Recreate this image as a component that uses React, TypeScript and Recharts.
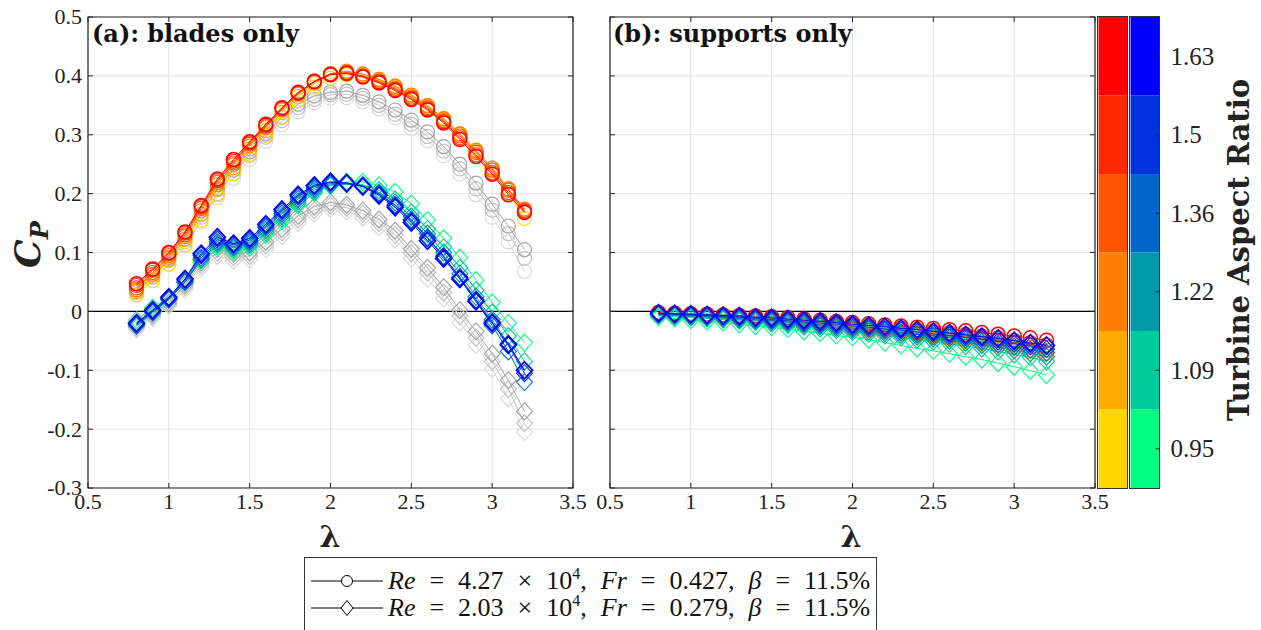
import React from "react";
import {
  ScatterChart,
  Scatter,
  XAxis,
  YAxis,
  CartesianGrid,
  ReferenceLine,
  ReferenceArea,
  BarChart,
  Bar,
  Cell,
} from "recharts";

// tip speed ratio sampled in every series
const LAMBDA = [0.8, 0.9, 1.0, 1.1, 1.2, 1.3, 1.4, 1.5, 1.6, 1.7, 1.8, 1.9, 2.0, 2.1, 2.2, 2.3, 2.4, 2.5, 2.6, 2.7, 2.8, 2.9, 3.0, 3.1, 3.2];
const X_TICKS = [0.5, 1, 1.5, 2, 2.5, 3, 3.5];
const Y_TICKS = [-0.3, -0.2, -0.1, 0, 0.1, 0.2, 0.3, 0.4, 0.5];

const ASPECT_RATIOS = ["0.95", "1.09", "1.22", "1.36", "1.5", "1.63"];
const WARM = ["#ffd700", "#ffaa00", "#ff7f00", "#ff5500", "#ff2a00", "#ff0000"];
const COOL = ["#00ff80", "#00cc99", "#0099aa", "#0066cc", "#0033dd", "#0000ff"];
const GREYS = ["#dadada", "#c2c2c2", "#a6a6a6"];

// (a) blades only, Re = 4.27e4 (circles)
const bladesO095 = [0.028, 0.052, 0.080, 0.113, 0.155, 0.198, 0.234, 0.267, 0.299, 0.330, 0.358, 0.381, 0.396, 0.402, 0.400, 0.392, 0.381, 0.366, 0.348, 0.326, 0.300, 0.271, 0.240, 0.200, 0.158];
const bladesO109 = [0.034, 0.059, 0.088, 0.122, 0.165, 0.209, 0.244, 0.276, 0.307, 0.338, 0.365, 0.387, 0.402, 0.407, 0.403, 0.394, 0.383, 0.368, 0.350, 0.328, 0.302, 0.274, 0.244, 0.208, 0.170];
const bladesO122 = [0.037, 0.063, 0.092, 0.127, 0.171, 0.215, 0.249, 0.281, 0.312, 0.342, 0.369, 0.390, 0.404, 0.408, 0.403, 0.394, 0.382, 0.367, 0.349, 0.327, 0.301, 0.273, 0.243, 0.208, 0.174];
const bladesO136 = [0.040, 0.066, 0.095, 0.130, 0.175, 0.219, 0.252, 0.284, 0.314, 0.344, 0.370, 0.391, 0.403, 0.406, 0.400, 0.391, 0.379, 0.364, 0.346, 0.324, 0.298, 0.270, 0.240, 0.206, 0.172];
const bladesO150 = [0.044, 0.070, 0.098, 0.133, 0.178, 0.222, 0.255, 0.286, 0.316, 0.345, 0.371, 0.391, 0.403, 0.405, 0.399, 0.390, 0.377, 0.362, 0.344, 0.322, 0.295, 0.266, 0.236, 0.202, 0.170];
const bladesO163 = [0.047, 0.072, 0.100, 0.135, 0.180, 0.225, 0.258, 0.288, 0.318, 0.346, 0.372, 0.390, 0.402, 0.404, 0.398, 0.388, 0.375, 0.360, 0.342, 0.320, 0.292, 0.263, 0.233, 0.198, 0.168];
const bladesOGrey1 = [0.028, 0.053, 0.080, 0.112, 0.152, 0.193, 0.226, 0.258, 0.289, 0.317, 0.339, 0.354, 0.362, 0.363, 0.356, 0.344, 0.329, 0.311, 0.290, 0.264, 0.233, 0.198, 0.160, 0.118, 0.068];
const bladesOGrey2 = [0.032, 0.058, 0.086, 0.118, 0.160, 0.200, 0.234, 0.265, 0.296, 0.324, 0.346, 0.360, 0.368, 0.369, 0.362, 0.350, 0.335, 0.318, 0.297, 0.272, 0.242, 0.208, 0.172, 0.132, 0.090];
const bladesOGrey3 = [0.036, 0.062, 0.090, 0.123, 0.165, 0.207, 0.240, 0.271, 0.302, 0.330, 0.352, 0.366, 0.372, 0.374, 0.367, 0.356, 0.342, 0.325, 0.305, 0.280, 0.250, 0.218, 0.182, 0.145, 0.105];

// (a) blades only, Re = 2.03e4 (diamonds)
const bladesD095 = [-0.015, 0.006, 0.024, 0.050, 0.086, 0.110, 0.102, 0.108, 0.130, 0.154, 0.180, 0.201, 0.214, 0.220, 0.220, 0.214, 0.203, 0.183, 0.155, 0.124, 0.091, 0.053, 0.015, -0.020, -0.053];
const bladesD109 = [-0.019, 0.003, 0.022, 0.050, 0.088, 0.113, 0.105, 0.112, 0.134, 0.158, 0.183, 0.203, 0.214, 0.217, 0.215, 0.206, 0.190, 0.168, 0.140, 0.109, 0.074, 0.036, -0.002, -0.042, -0.085];
const bladesD122 = [-0.022, 0.000, 0.020, 0.049, 0.088, 0.115, 0.108, 0.115, 0.138, 0.162, 0.187, 0.206, 0.215, 0.216, 0.213, 0.202, 0.185, 0.161, 0.132, 0.100, 0.064, 0.025, -0.014, -0.055, -0.100];
const bladesD136 = [-0.024, -0.002, 0.020, 0.050, 0.091, 0.118, 0.110, 0.118, 0.142, 0.166, 0.191, 0.209, 0.217, 0.217, 0.213, 0.200, 0.181, 0.156, 0.126, 0.094, 0.057, 0.017, -0.024, -0.068, -0.120];
const bladesD150 = [-0.022, 0.000, 0.022, 0.053, 0.095, 0.122, 0.113, 0.121, 0.145, 0.170, 0.195, 0.212, 0.219, 0.218, 0.213, 0.199, 0.180, 0.154, 0.124, 0.093, 0.058, 0.020, -0.018, -0.058, -0.105];
const bladesD163 = [-0.020, 0.002, 0.024, 0.055, 0.098, 0.126, 0.115, 0.124, 0.148, 0.173, 0.198, 0.214, 0.220, 0.218, 0.212, 0.197, 0.177, 0.151, 0.120, 0.090, 0.055, 0.017, -0.020, -0.056, -0.100];
const bladesDGrey1 = [-0.031, -0.011, 0.009, 0.037, 0.073, 0.094, 0.086, 0.088, 0.106, 0.128, 0.150, 0.166, 0.174, 0.170, 0.159, 0.143, 0.122, 0.090, 0.056, 0.022, -0.019, -0.057, -0.098, -0.148, -0.205];
const bladesDGrey2 = [-0.028, -0.008, 0.012, 0.041, 0.078, 0.100, 0.092, 0.094, 0.112, 0.134, 0.156, 0.172, 0.180, 0.176, 0.166, 0.150, 0.130, 0.099, 0.066, 0.032, -0.008, -0.045, -0.085, -0.132, -0.190];
const bladesDGrey3 = [-0.025, -0.005, 0.015, 0.045, 0.083, 0.106, 0.098, 0.100, 0.118, 0.140, 0.162, 0.178, 0.185, 0.181, 0.171, 0.156, 0.137, 0.106, 0.074, 0.041, 0.002, -0.034, -0.072, -0.117, -0.170];

// (b) supports only, Re = 4.27e4 (circles)
const supportsO095 = [-0.005, -0.006, -0.008, -0.009, -0.011, -0.013, -0.015, -0.017, -0.019, -0.022, -0.024, -0.027, -0.030, -0.032, -0.035, -0.038, -0.041, -0.044, -0.048, -0.051, -0.055, -0.060, -0.064, -0.069, -0.075];
const supportsO109 = [-0.004, -0.005, -0.007, -0.009, -0.010, -0.012, -0.014, -0.016, -0.018, -0.021, -0.023, -0.026, -0.028, -0.031, -0.034, -0.036, -0.039, -0.042, -0.045, -0.049, -0.053, -0.057, -0.061, -0.066, -0.071];
const supportsO122 = [-0.004, -0.005, -0.006, -0.008, -0.010, -0.011, -0.013, -0.015, -0.017, -0.019, -0.022, -0.024, -0.026, -0.029, -0.031, -0.034, -0.037, -0.039, -0.042, -0.045, -0.049, -0.053, -0.057, -0.061, -0.066];
const supportsO136 = [-0.003, -0.004, -0.006, -0.007, -0.009, -0.010, -0.012, -0.014, -0.016, -0.018, -0.020, -0.022, -0.024, -0.027, -0.029, -0.031, -0.034, -0.036, -0.039, -0.042, -0.045, -0.049, -0.053, -0.057, -0.061];
const supportsO150 = [-0.003, -0.004, -0.005, -0.006, -0.007, -0.009, -0.010, -0.012, -0.014, -0.016, -0.018, -0.020, -0.022, -0.024, -0.026, -0.028, -0.031, -0.033, -0.036, -0.039, -0.042, -0.045, -0.049, -0.053, -0.057];
const supportsO163 = [-0.002, -0.003, -0.004, -0.005, -0.006, -0.007, -0.008, -0.009, -0.011, -0.013, -0.015, -0.017, -0.019, -0.021, -0.023, -0.025, -0.027, -0.029, -0.031, -0.033, -0.036, -0.039, -0.042, -0.045, -0.049];

// (b) supports only, Re = 2.03e4 (diamonds)
const supportsD095 = [-0.010, -0.012, -0.015, -0.017, -0.019, -0.022, -0.025, -0.027, -0.030, -0.034, -0.037, -0.041, -0.044, -0.048, -0.053, -0.058, -0.063, -0.067, -0.072, -0.077, -0.082, -0.088, -0.094, -0.101, -0.108];
const supportsD109 = [-0.007, -0.009, -0.010, -0.012, -0.014, -0.016, -0.018, -0.021, -0.023, -0.026, -0.029, -0.032, -0.035, -0.038, -0.041, -0.044, -0.048, -0.051, -0.055, -0.059, -0.063, -0.068, -0.073, -0.078, -0.085];
const supportsD122 = [-0.006, -0.007, -0.009, -0.010, -0.012, -0.014, -0.016, -0.018, -0.020, -0.023, -0.025, -0.028, -0.031, -0.034, -0.037, -0.040, -0.043, -0.046, -0.050, -0.053, -0.057, -0.061, -0.066, -0.071, -0.077];
const supportsD136 = [-0.005, -0.006, -0.007, -0.009, -0.010, -0.012, -0.014, -0.016, -0.018, -0.020, -0.023, -0.025, -0.028, -0.030, -0.033, -0.036, -0.039, -0.042, -0.045, -0.048, -0.052, -0.056, -0.060, -0.065, -0.070];
const supportsD150 = [-0.004, -0.005, -0.006, -0.007, -0.009, -0.010, -0.012, -0.014, -0.016, -0.018, -0.020, -0.022, -0.025, -0.027, -0.030, -0.032, -0.035, -0.038, -0.041, -0.044, -0.047, -0.051, -0.055, -0.059, -0.064];
const supportsD163 = [-0.003, -0.004, -0.005, -0.006, -0.007, -0.008, -0.010, -0.011, -0.013, -0.015, -0.017, -0.019, -0.022, -0.024, -0.026, -0.029, -0.031, -0.034, -0.037, -0.040, -0.043, -0.046, -0.050, -0.054, -0.058];

const LEGEND_ROWS = [
  { marker: "circle", re: "4.27", fr: "0.427", beta: "11.5" },
  { marker: "diamond", re: "2.03", fr: "0.279", beta: "11.5" },
];

const SERIF = "'Liberation Serif', 'Times New Roman', serif";
const BOLD_SERIF = "'DejaVu Serif', serif";
const AXIS = "#262626";

// plot box inside each 600x560 panel svg
const PLOT = { left: 88, right: 573, top: 17, bottom: 488 };

const toPoints = (vals: number[]) => LAMBDA.map((x, i) => ({ x, y: vals[i] }));

const ring = (color: string, w: number) => (p: any) => (
  <circle cx={p.cx} cy={p.cy} r={7} fill="none" stroke={color} strokeWidth={w} />
);

const diamond = (color: string, w: number) => (p: any) => (
  <polygon
    points={`${p.cx},${p.cy - 8.5} ${p.cx + 8},${p.cy} ${p.cx},${p.cy + 8.5} ${p.cx - 8},${p.cy}`}
    fill="none"
    stroke={color}
    strokeWidth={w}
  />
);

function XTick(p: any) {
  return (
    <g>
      <line x1={p.x} x2={p.x} y1={PLOT.top} y2={PLOT.top + 5} stroke={AXIS} />
      <line x1={p.x} x2={p.x} y1={PLOT.bottom - 5} y2={PLOT.bottom} stroke={AXIS} />
      <text x={p.x} y={p.y} dy="0.7em" textAnchor="middle" fontFamily={SERIF} fontSize={22} fill="#222">
        {p.payload.value}
      </text>
    </g>
  );
}

function YTick(p: any) {
  return (
    <g>
      <line x1={PLOT.left} x2={PLOT.left + 5} y1={p.y} y2={p.y} stroke={AXIS} />
      <line x1={PLOT.right - 5} x2={PLOT.right} y1={p.y} y2={p.y} stroke={AXIS} />
      {p.showLabel && (
        <text x={p.x} y={p.y} dy="0.34em" textAnchor="end" fontFamily={SERIF} fontSize={22} fill="#222">
          {p.payload.value}
        </text>
      )}
    </g>
  );
}

function CbTick(p: any) {
  const idx = Math.floor(p.payload.value);
  return (
    <g>
      <line x1={p.x - 15} x2={p.x - 11} y1={p.y} y2={p.y} stroke={AXIS} />
      <text x={p.x} y={p.y} dy="0.34em" textAnchor="start" fontFamily={SERIF} fontSize={25} fill="#222">
        {ASPECT_RATIOS[idx]}
      </text>
    </g>
  );
}

interface PanelProps {
  left: number;
  circles: number[][];
  diamonds: number[][];
  greyCircles: number[][];
  greyDiamonds: number[][];
  showY: boolean;
}

function Panel({ left, circles, diamonds, greyCircles, greyDiamonds, showY }: PanelProps) {
  const last = ASPECT_RATIOS.length - 1;
  return (
    <div style={{ position: "absolute", left, top: 0 }}>
      <ScatterChart width={600} height={560} margin={{ top: 17, right: 27, bottom: 42, left: 0 }}>
        <CartesianGrid stroke="#e2e2e2" strokeWidth={1} />
        <XAxis
          type="number"
          dataKey="x"
          domain={[0.5, 3.5]}
          ticks={X_TICKS}
          interval={0}
          height={30}
          axisLine={false}
          tickLine={false}
          tickSize={0}
          tickMargin={6}
          tick={(p: any) => <XTick {...p} />}
        />
        <YAxis
          type="number"
          dataKey="y"
          domain={[-0.3, 0.5]}
          ticks={Y_TICKS}
          interval={0}
          width={88}
          axisLine={false}
          tickLine={false}
          tickSize={0}
          tickMargin={6}
          tick={(p: any) => <YTick {...p} showLabel={showY} />}
        />
        <ReferenceLine y={0} stroke="#000" strokeWidth={1.3} />
        {greyCircles.map((v, i) => (
          <Scatter
            key={`gc${i}`}
            data={toPoints(v)}
            shape={ring(GREYS[i], 1.2)}
            line={{ stroke: GREYS[i], strokeWidth: 1 }}
            isAnimationActive={false}
          />
        ))}
        {greyDiamonds.map((v, i) => (
          <Scatter
            key={`gd${i}`}
            data={toPoints(v)}
            shape={diamond(GREYS[i], 1.2)}
            line={{ stroke: GREYS[i], strokeWidth: 1 }}
            isAnimationActive={false}
          />
        ))}
        {circles.map((v, i) => (
          <Scatter
            key={`c${i}`}
            data={toPoints(v)}
            shape={ring(WARM[i], i === last ? 1.5 : 1.1)}
            line={{ stroke: WARM[i], strokeWidth: 1 }}
            isAnimationActive={false}
          />
        ))}
        {diamonds.map((v, i) => (
          <Scatter
            key={`d${i}`}
            data={toPoints(v)}
            shape={diamond(COOL[i], i === last ? 1.7 : 1.1)}
            line={{ stroke: COOL[i], strokeWidth: 1 }}
            isAnimationActive={false}
          />
        ))}
        <ReferenceArea x1={0.5} x2={3.5} y1={-0.3} y2={0.5} fill="none" stroke={AXIS} strokeWidth={1.2} />
      </ScatterChart>
    </div>
  );
}

const COLORBAR_ROWS = [WARM, COOL].map((_, k) => {
  const row: Record<string, number> = { col: k };
  ASPECT_RATIOS.forEach((_, i) => {
    row[`s${i}`] = 1;
  });
  return row;
});

function Colorbar() {
  return (
    <div style={{ position: "absolute", left: 1090, top: 0 }}>
      <BarChart
        width={171}
        height={560}
        data={COLORBAR_ROWS}
        margin={{ top: 17, right: 0, bottom: 72, left: 6.5 }}
        barSize={29}
        barCategoryGap={0}
      >
        <XAxis dataKey="col" hide />
        <YAxis
          orientation="right"
          type="number"
          domain={[0, ASPECT_RATIOS.length]}
          ticks={ASPECT_RATIOS.map((_, i) => i + 0.5)}
          interval={0}
          width={100.5}
          axisLine={false}
          tickLine={false}
          tickSize={0}
          tickMargin={10}
          tick={(p: any) => <CbTick {...p} />}
        />
        {ASPECT_RATIOS.map((_, i) => (
          <Bar key={i} dataKey={`s${i}`} stackId="cb" isAnimationActive={false}>
            {[WARM, COOL].map((pal, k) => (
              <Cell key={k} fill={pal[i]} />
            ))}
          </Bar>
        ))}
      </BarChart>
      <div style={{ position: "absolute", left: 7, top: 16, width: 31, height: 473, border: "1.5px solid #333", boxSizing: "border-box" }} />
      <div style={{ position: "absolute", left: 39, top: 16, width: 31, height: 473, border: "1.5px solid #333", boxSizing: "border-box" }} />
    </div>
  );
}

function LegendMarker({ marker }: { marker: string }) {
  return (
    <svg width={78} height={22} style={{ display: "block" }}>
      <line x1={6} x2={78} y1={11} y2={11} stroke="#000" strokeWidth={1} />
      {marker === "circle" ? (
        <circle cx={42} cy={11} r={5.5} fill="#fff" stroke="#000" strokeWidth={1} />
      ) : (
        <polygon points="42,3.5 48,11 42,18.5 36,11" fill="#fff" stroke="#000" strokeWidth={1} />
      )}
    </svg>
  );
}

function MathLegend() {
  return (
    <div
      style={{
        position: "absolute",
        left: 304,
        top: 557,
        width: 573,
        height: 90,
        border: "1px solid #333",
        boxSizing: "border-box",
        background: "#fff",
        paddingTop: 9,
        fontFamily: SERIF,
        fontSize: 26,
        color: "#111",
      }}
    >
      {LEGEND_ROWS.map((r) => (
        <div key={r.marker} style={{ display: "flex", alignItems: "center", height: 27, whiteSpace: "nowrap" }}>
          <LegendMarker marker={r.marker} />
          <span style={{ marginLeft: 5, wordSpacing: 7.5 }}>
            <i>Re</i> = {r.re} × 10<span style={{ fontSize: 16, position: "relative", top: -10 }}>4</span>,{" "}
            <i>Fr</i> = {r.fr}, <i>β</i> = {r.beta}%
          </span>
        </div>
      ))}
    </div>
  );
}

export default function App() {
  return (
    <div style={{ position: "absolute", left: 0, top: 0, width: 1261, height: 630, background: "#fff", overflow: "hidden" }}>
      <Panel
        left={0}
        circles={[bladesO095, bladesO109, bladesO122, bladesO136, bladesO150, bladesO163]}
        diamonds={[bladesD095, bladesD109, bladesD122, bladesD136, bladesD150, bladesD163]}
        greyCircles={[bladesOGrey1, bladesOGrey2, bladesOGrey3]}
        greyDiamonds={[bladesDGrey1, bladesDGrey2, bladesDGrey3]}
        showY={true}
      />
      <Panel
        left={522}
        circles={[supportsO095, supportsO109, supportsO122, supportsO136, supportsO150, supportsO163]}
        diamonds={[supportsD095, supportsD109, supportsD122, supportsD136, supportsD150, supportsD163]}
        greyCircles={[]}
        greyDiamonds={[]}
        showY={false}
      />
      <Colorbar />
      <svg width={1261} height={630} style={{ position: "absolute", left: 0, top: 0, pointerEvents: "none" }}>
        <text x={92} y={42} fontFamily={BOLD_SERIF} fontWeight="bold" fontSize={24} fill="#111">
          (a):<tspan dx={8}>blades only</tspan>
        </text>
        <text x={613} y={42} fontFamily={BOLD_SERIF} fontWeight="bold" fontSize={24} fill="#111">
          (b):<tspan dx={8}>supports only</tspan>
        </text>
        <text x={330} y={547} textAnchor="middle" fontFamily={BOLD_SERIF} fontWeight="bold" fontSize={30} fill="#222">
          λ
        </text>
        <text x={851} y={547} textAnchor="middle" fontFamily={BOLD_SERIF} fontWeight="bold" fontSize={30} fill="#222">
          λ
        </text>
        <text
          transform="translate(40,268) rotate(-90)"
          fontFamily={BOLD_SERIF}
          fontWeight="bold"
          fontStyle="italic"
          fontSize={36}
          fill="#222"
        >
          C<tspan dy={8} fontSize={24}>P</tspan>
        </text>
        <text
          transform="translate(1249,250) rotate(-90)"
          textAnchor="middle"
          fontFamily={BOLD_SERIF}
          fontWeight="bold"
          fontSize={29}
          fill="#222"
        >
          Turbine Aspect Ratio
        </text>
      </svg>
      <MathLegend />
    </div>
  );
}
